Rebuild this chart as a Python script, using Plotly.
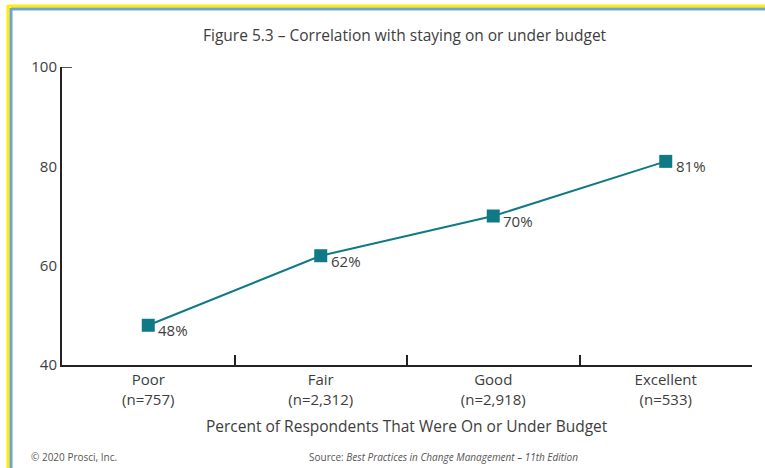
import plotly.graph_objects as go

categories = ["Poor<br>(n=757)", "Fair<br>(n=2,312)", "Good<br>(n=2,918)", "Excellent<br>(n=533)"]
values = [48, 62, 70, 81]
value_labels = ["48%", "62%", "70%", "81%"]
y_ticks = [40, 60, 80, 100]

W, H = 765, 468
L, R, T, B = 62, 13, 67, 103
pw, ph = W - L - R, H - T - B

def px(x):
    return (x - L) / pw

def py(y):
    return (H - B - y) / ph

teal = "#0f7a86"
font = "Open Sans"
txt = "#3d3d3d"

fig = go.Figure()
fig.add_trace(go.Scatter(
    x=categories, y=values, mode="lines+markers",
    line=dict(color=teal, width=2),
    marker=dict(symbol="square", size=13, color=teal),
    hoverinfo="skip", showlegend=False,
))

for c, v, t in zip(categories, values, value_labels):
    fig.add_annotation(x=c, y=v, text=t, showarrow=False, xanchor="left",
                       yanchor="middle", xshift=8, yshift=-5,
                       font=dict(family=font, size=15, color=txt))

shapes = [
    dict(type="line", xref="paper", yref="paper", x0=px(8), x1=px(W + 5), y0=py(6), y1=py(6),
         line=dict(color="#ffee00", width=3)),
    dict(type="line", xref="paper", yref="paper", x0=px(8), x1=px(8), y0=py(5), y1=py(H + 5),
         line=dict(color="#ffee00", width=3)),
    dict(type="line", xref="paper", yref="paper", x0=px(11), x1=px(W + 5), y0=py(9), y1=py(9),
         line=dict(color="#6fa3d3", width=3)),
    dict(type="line", xref="paper", yref="paper", x0=px(11), x1=px(11), y0=py(8), y1=py(H + 5),
         line=dict(color="#6fa3d3", width=3)),
    dict(type="line", xref="paper", yref="y", x0=0, x1=px(72), y0=100, y1=100,
         line=dict(color="#222222", width=1.5)),
]

fig.add_annotation(xref="paper", yref="paper", x=px(405), y=py(35), text="Figure 5.3 – Correlation with staying on or under budget",
                   showarrow=False, xanchor="center", yanchor="middle",
                   font=dict(family=font, size=15.5, color=txt))
fig.add_annotation(xref="paper", yref="paper", x=px(407), y=py(426), text="Percent of Respondents That Were On or Under Budget",
                   showarrow=False, xanchor="center", yanchor="middle",
                   font=dict(family=font, size=15.5, color=txt))
fig.add_annotation(xref="paper", yref="paper", x=px(29), y=py(457), text="© 2020 Prosci, Inc.",
                   showarrow=False, xanchor="left", yanchor="middle",
                   font=dict(family=font, size=10, color="#555555"))
fig.add_annotation(xref="paper", yref="paper", x=px(444), y=py(457),
                   text="Source: <i>Best Practices in Change Management – 11th Edition</i>",
                   showarrow=False, xanchor="center", yanchor="middle",
                   font=dict(family=font, size=10, color="#555555"))

fig.update_layout(
    width=W, height=H, margin=dict(l=L, r=R, t=T, b=B),
    paper_bgcolor="white", plot_bgcolor="white",
    shapes=shapes,
    xaxis=dict(type="category", range=[-0.5, 3.5], showline=True, linecolor="#222222", linewidth=2,
               ticks="inside", tickson="boundaries", ticklen=10, tickcolor="#222222", tickwidth=1.5,
               showgrid=False, zeroline=False, mirror=False,
               tickfont=dict(family=font, size=15, color=txt)),
    yaxis=dict(range=[40, 100], tickvals=y_ticks, showline=True, linecolor="#222222", linewidth=2,
               ticks="outside", ticklen=0, showgrid=False, zeroline=False,
               tickfont=dict(family=font, size=15, color=txt)),
)

fig.write_html("out.html")
